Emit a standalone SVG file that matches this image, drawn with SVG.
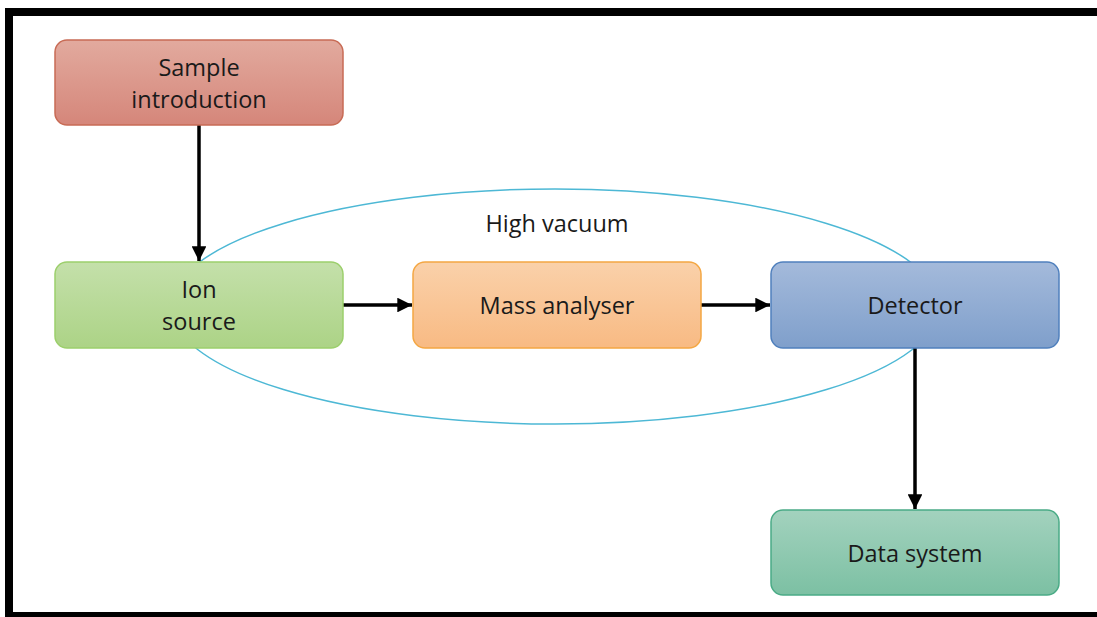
<svg xmlns="http://www.w3.org/2000/svg" width="1097" height="617" viewBox="0 0 1097 617">
  <style>
    .box { stroke-width: 1.5; }
    .label { font-family: "Open Sans", "Liberation Sans", sans-serif; font-size: 23.5px; fill: #1a1a1a; text-anchor: middle; }
    .conn { stroke: #000; stroke-width: 3.5; fill: none; }
  </style>
  <defs>
    <linearGradient id="gRed" x1="0" y1="0" x2="0" y2="1">
      <stop offset="0" stop-color="#e2aa9e"/>
      <stop offset="1" stop-color="#d5867a"/>
    </linearGradient>
    <linearGradient id="gGreen" x1="0" y1="0" x2="0" y2="1">
      <stop offset="0" stop-color="#c4e0aa"/>
      <stop offset="1" stop-color="#acd386"/>
    </linearGradient>
    <linearGradient id="gOrange" x1="0" y1="0" x2="0" y2="1">
      <stop offset="0" stop-color="#fad1aa"/>
      <stop offset="1" stop-color="#f8ba83"/>
    </linearGradient>
    <linearGradient id="gBlue" x1="0" y1="0" x2="0" y2="1">
      <stop offset="0" stop-color="#a4badb"/>
      <stop offset="1" stop-color="#7f9fcb"/>
    </linearGradient>
    <linearGradient id="gTeal" x1="0" y1="0" x2="0" y2="1">
      <stop offset="0" stop-color="#a3d2be"/>
      <stop offset="1" stop-color="#7cc0a3"/>
    </linearGradient>
    <marker id="arrow" viewBox="0 0 10 10" refX="10" refY="5" markerWidth="4.2" markerHeight="4.2" orient="auto" markerUnits="strokeWidth">
      <path d="M0,0 L10,5 L0,10 Z" fill="#000"/>
    </marker>
  </defs>

  <rect x="0" y="0" width="1097" height="617" fill="#fff"/>

  <!-- frame -->
  <g id="frame" fill="#000">
    <rect x="5" y="8" width="1092" height="8"/>
    <rect x="5" y="8" width="8" height="609"/>
    <rect x="5" y="612" width="1092" height="5"/>
  </g>

  <!-- vacuum envelope -->
  <g id="high-vacuum">
    <ellipse cx="555" cy="306.5" rx="384" ry="117.5" fill="none" stroke="#4db8d5" stroke-width="1.5"/>
    <text class="label" x="557" y="232">High vacuum</text>
  </g>

  <g id="connectors">
    <line class="conn" x1="199" y1="125" x2="199" y2="261" marker-end="url(#arrow)"/>
    <line class="conn" x1="343" y1="305" x2="412" y2="305" marker-end="url(#arrow)"/>
    <line class="conn" x1="701" y1="305" x2="770" y2="305" marker-end="url(#arrow)"/>
    <line class="conn" x1="915" y1="348" x2="915" y2="509" marker-end="url(#arrow)"/>
  </g>

  <g id="sample-introduction">
    <rect class="box" x="55" y="40" width="288" height="85" rx="12" fill="url(#gRed)" stroke="#c86b55"/>
    <text class="label" x="199" y="76">Sample</text>
    <text class="label" x="199" y="108">introduction</text>
  </g>

  <g id="ion-source">
    <rect class="box" x="55" y="262" width="288" height="86" rx="12" fill="url(#gGreen)" stroke="#9ccf6c"/>
    <text class="label" x="199" y="298">Ion</text>
    <text class="label" x="199" y="330">source</text>
  </g>

  <g id="mass-analyser">
    <rect class="box" x="413" y="262" width="288" height="86" rx="12" fill="url(#gOrange)" stroke="#f4a743"/>
    <text class="label" x="557" y="314">Mass analyser</text>
  </g>

  <g id="detector">
    <rect class="box" x="771" y="262" width="288" height="86" rx="12" fill="url(#gBlue)" stroke="#5080bd"/>
    <text class="label" x="915" y="314">Detector</text>
  </g>

  <g id="data-system">
    <rect class="box" x="771" y="510" width="288" height="85" rx="12" fill="url(#gTeal)" stroke="#4aab86"/>
    <text class="label" x="915" y="562">Data system</text>
  </g>
</svg>
